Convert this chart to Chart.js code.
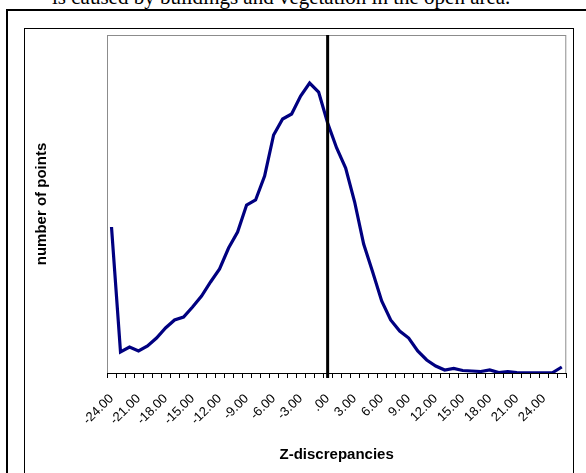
<!DOCTYPE html>
<html>
<head>
<meta charset="utf-8">
<script src="https://cdn.jsdelivr.net/npm/chart.js"></script>
<style>
  html, body { margin: 0; padding: 0; background: #fff; }
  #page { position: relative; width: 586px; height: 473px; overflow: hidden; }
  #caption { position: absolute; left: 52px; top: -13px; font: 21px "Liberation Serif", serif; line-height: 21px; white-space: nowrap; color: #000; }
  #outer { position: absolute; left: 6px; top: 9px; width: 620px; height: 520px; border-left: 2px solid #000; border-top: 2px solid #000; }
  #frame { position: absolute; left: 24px; top: 28px; width: 548px; height: 520px; border: 1px solid #000; }
  #chart { position: absolute; left: 0; top: 0; }
</style>
</head>
<body>
<div id="page">
  <div id="caption">is caused by buildings and vegetation in the open area.</div>
  <div id="outer"></div>
  <div id="frame"></div>
  <canvas id="chart" width="586" height="473"></canvas>
</div>
<script>
// Z-discrepancy classes (one per category on the axis)
const zValues = [-24, -23, -22, -21, -20, -19, -18, -17, -16, -15, -14, -13, -12, -11, -10,
  -9, -8, -7, -6, -5, -4, -3, -2, -1, 0, 1, 2, 3, 4, 5, 6, 7, 8, 9, 10,
  11, 12, 13, 14, 15, 16, 17, 18, 19, 20, 21, 22, 23, 24, 25, 26];

// number of points per class (arbitrary units)
const pointCounts = [146, 21, 26, 22, 27, 35, 45, 53, 56, 66, 77, 91, 104, 125, 141, 168, 173,
  197, 238, 254, 259, 277, 290, 281, 250, 225, 205, 171, 129, 101, 72, 53, 42, 35, 22, 13,
  7, 3, 4.5, 2.5, 2, 1.5, 3, 0.5, 1.3, 0.3, 0.2, 0.2, 0.2, 0.5, 6];

// labels printed under every third class
const tickLabels = ["-24.00", "-21.00", "-18.00", "-15.00", "-12.00", "-9.00", "-6.00", "-3.00",
  ".00", "3.00", "6.00", "9.00", "12.00", "15.00", "18.00", "21.00", "24.00"];
const labelValues = [-24, -21, -18, -15, -12, -9, -6, -3, 0, 3, 6, 9, 12, 15, 18, 21, 24];

const yMax = 338;

// gray border round the plot area
const plotFrame = {
    id: 'plotFrame',
    beforeDraw(chart) {
        const { ctx, chartArea: a } = chart;
        ctx.save();
        ctx.strokeStyle = '#8c8c8c';
        ctx.lineWidth = 1;
        ctx.strokeRect(a.left + 0.5, a.top + 0.5, a.right - a.left - 1, a.bottom - a.top);
        ctx.restore();
    }
};

// thick black line at Z = 0
const zeroLine = {
    id: 'zeroLine',
    afterDatasetsDraw(chart) {
        const { ctx, chartArea: a, scales } = chart;
        const x = scales.x.getPixelForValue(zValues.indexOf(0));
        ctx.save();
        ctx.strokeStyle = '#000';
        ctx.lineWidth = 3;
        ctx.beginPath();
        ctx.moveTo(x, a.top);
        ctx.lineTo(x, a.bottom + 5);
        ctx.stroke();
        ctx.restore();
    }
};

new Chart(document.getElementById('chart').getContext('2d'), {
    type: 'line',
    data: {
        labels: zValues.map(String),
        datasets: [{
            label: 'number of points',
            data: pointCounts,
            borderColor: '#000080',
            borderWidth: 3.2,
            pointRadius: 0,
            tension: 0,
            fill: false
        }]
    },
    options: {
        responsive: false,
        animation: false,
        devicePixelRatio: 1,
        layout: { padding: { left: 0, right: 19, top: 35, bottom: 0 } },
        plugins: {
            legend: { display: false },
            tooltip: { enabled: false }
        },
        scales: {
            x: {
                offset: true,
                grid: { offset: true, drawOnChartArea: false, drawTicks: true, tickLength: 5, color: '#000' },
                border: { display: true, color: '#000', width: 1 },
                ticks: {
                    autoSkip: false,
                    minRotation: 45,
                    maxRotation: 45,
                    padding: 13,
                    color: '#000',
                    font: { family: 'Liberation Sans, Arial, sans-serif', size: 13 },
                    callback: (val, i) => {
                        const k = labelValues.indexOf(zValues[i]);
                        return k >= 0 ? tickLabels[k] : '';
                    }
                },
                title: {
                    display: true,
                    text: 'Z-discrepancies',
                    color: '#000',
                    font: { family: 'Liberation Sans, Arial, sans-serif', size: 15, weight: 'bold' },
                    padding: { top: 0, bottom: 9 }
                },
                afterFit: s => { s.height = 100; }
            },
            y: {
                min: 0,
                max: yMax,
                grid: { display: false },
                border: { display: false },
                ticks: { display: false },
                title: {
                    display: true,
                    text: 'number of points',
                    color: '#000',
                    font: { family: 'Liberation Sans, Arial, sans-serif', size: 15, weight: 'bold' },
                    padding: { top: 33, bottom: 0 }
                },
                afterFit: s => { s.width = 107; }
            }
        }
    },
    plugins: [plotFrame, zeroLine]
});
</script>
</body>
</html>
